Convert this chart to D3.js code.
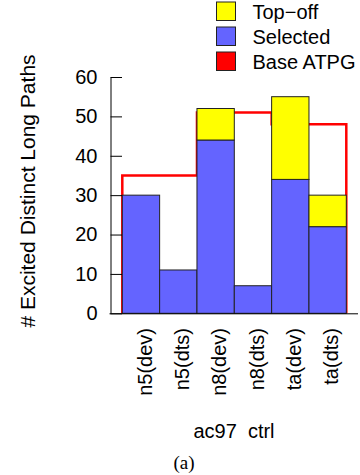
<!DOCTYPE html>
<html>
<head>
<meta charset="utf-8">
<script src="https://cdn.jsdelivr.net/npm/d3@7"></script>
<style>
  body { margin: 0; background: #fff; }
  svg { display: block; font-family: "Liberation Sans", Arial, sans-serif; }
</style>
</head>
<body>
<svg width="360" height="475"></svg>
<script>
// data
const categories = ["n5(dev)", "n5(dts)", "n8(dev)", "n8(dts)", "ta(dev)", "ta(dts)"];
const selected = [30, 11, 44, 7, 34, 22];
const topoff = [0, 0, 8, 0, 21, 8];
// base ATPG is one value per design, spanning its two bars
const groups = ["n5", "n8", "ta"];
const baseAtpg = [35, 51, 48];
const yTicks = [0, 10, 20, 30, 40, 50, 60];
const legendItems = ["Top\u2212off", "Selected", "Base ATPG"];

const colors = { topoff: "#ffff00", selected: "#6464ff", base: "#ff0000" };

const svg = d3.select("svg");

const xs = d3.scaleBand().domain(categories).range([122.3, 346.3]).padding(0);
const ys = d3.scaleLinear().domain([0, 60]).range([313.3, 77]);

// red step outline for Base ATPG, drawn behind the bars
const stepPts = [[xs(categories[0]), 0]];
groups.forEach((g, i) => stepPts.push([xs(categories[i * 2]), baseAtpg[i]]));
stepPts.push([xs.range()[1], baseAtpg[baseAtpg.length - 1]]);
stepPts.push([xs.range()[1], 0]);

const step = d3.line().x(d => d[0]).y(d => ys(d[1])).curve(d3.curveStepAfter);

svg.append("path")
    .datum(stepPts)
    .attr("d", step)
    .attr("fill", "none")
    .attr("stroke", colors.base)
    .attr("stroke-width", 2.5);

// stacked bars
const rows = categories.map((c, i) => ({ cat: c, selected: selected[i], topoff: topoff[i] }));
const stacked = d3.stack().keys(["selected", "topoff"])(rows);

svg.append("g")
  .selectAll("g")
  .data(stacked)
  .join("g")
    .attr("fill", d => colors[d.key])
  .selectAll("rect")
  .data(d => d.filter(s => s[1] > s[0]))
  .join("rect")
    .attr("x", d => xs(d.data.cat))
    .attr("width", xs.bandwidth())
    .attr("y", d => ys(d[1]))
    .attr("height", d => ys(d[0]) - ys(d[1]))
    .attr("stroke", "#222")
    .attr("stroke-width", 1);

// y axis, ticks pointing inward
const yAxis = svg.append("g")
    .attr("transform", "translate(110.5,0)")
    .call(d3.axisLeft(ys).tickValues(yTicks).tickSizeInner(-11.5).tickSizeOuter(0).tickPadding(13));
yAxis.select(".domain").attr("stroke", "#000");
yAxis.selectAll(".tick line").attr("stroke", "#000");
yAxis.selectAll("text")
    .attr("font-size", 20)
    .attr("font-family", "Liberation Sans, Arial, sans-serif")
    .attr("fill", "#000");

// x axis line
svg.append("line")
    .attr("x1", 109.5).attr("x2", 358)
    .attr("y1", ys(0) + 0.5).attr("y2", ys(0) + 0.5)
    .attr("stroke", "#000");

// category labels, rotated
svg.append("g")
  .selectAll("text")
  .data(categories)
  .join("text")
    .attr("transform", d => `translate(${xs(d) + xs.bandwidth() / 2},328) rotate(-90)`)
    .attr("dy", "0.53em")
    .attr("text-anchor", "end")
    .attr("font-size", 20)
    .text(d => d);

// y title
svg.append("text")
    .attr("transform", "translate(35,191) rotate(-90)")
    .attr("text-anchor", "middle")
    .attr("font-size", 21)
    .text("# Excited Distinct Long Paths");

// x title
svg.append("text")
    .attr("x", 234)
    .attr("y", 438.3)
    .attr("text-anchor", "middle")
    .attr("font-size", 20)
    .style("white-space", "pre")
    .text("ac97  ctrl");

svg.append("text")
    .attr("x", 184)
    .attr("y", 469)
    .attr("text-anchor", "middle")
    .attr("font-size", 19)
    .attr("font-family", "Liberation Serif, Times New Roman, serif")
    .text("(a)");

// legend
const legendColors = [colors.topoff, colors.selected, colors.base];
const lg = svg.append("g")
  .selectAll("g")
  .data(legendItems)
  .join("g")
    .attr("transform", (d, i) => `translate(216.5,${2 + i * 25})`);

lg.append("rect")
    .attr("width", 19)
    .attr("height", 18.5)
    .attr("fill", (d, i) => legendColors[i])
    .attr("stroke", "#222");

lg.append("text")
    .attr("x", 36)
    .attr("y", 16.5)
    .attr("font-size", 20)
    .text(d => d);
</script>
</body>
</html>
